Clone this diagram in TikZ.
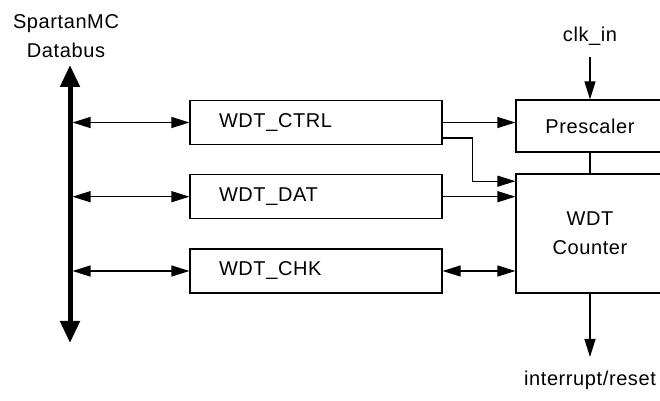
\documentclass[tikz,border=0pt]{standalone}
\usepackage{fontspec}
\setmainfont{Liberation Sans}[LetterSpace=3]
\usetikzlibrary{arrows.meta,positioning}

\begin{document}
\begin{tikzpicture}[
  x=0.5pt,y=-0.5pt,
  font=\fontsize{10}{14.5}\selectfont,
  box/.style={draw,line width=0.6pt,minimum height=22pt,minimum width=126pt,
              text width=97pt,align=left,inner xsep=14.5pt},
  blk/.style={draw,line width=0.6pt,minimum width=74pt,align=center},
  arrow/.style={line width=0.6pt,-{Triangle[length=9pt,width=5.5pt]}},
  biarrow/.style={line width=0.6pt,{Triangle[length=9pt,width=5.5pt]}-{Triangle[length=9pt,width=5.5pt]}},
  busline/.style={line width=2.5pt,{Triangle[length=11pt,width=9.5pt]}-{Triangle[length=11pt,width=9.5pt]}}
]
\path[use as bounding box,clip] (0,0) rectangle (660,401);
% data bus
\node[align=center] (busname) at (66,36) {SpartanMC\\Databus};
\coordinate (bustop) at (70,65);
\coordinate (busbot) at (70,343);
\draw[busline] (bustop) -- (busbot);
% registers
\node[box] (ctrl) at (316,122.5) {WDT\_CTRL};
\node[box] (dat) at (316,196.7) {WDT\_DAT};
\node[box] (chk) at (316,271) {WDT\_CHK};
% watchdog core
\node[blk,minimum height=26pt] (presc) at (590,126) {Prescaler};
\node[blk,minimum height=59.5pt] (cnt) at (590,233.5) {WDT\\Counter};
\node (clk) at (590,36) {clk\_in};
\node (irq) at (590,380) {interrupt/reset};
\coordinate (clkin) at (590,57);
\coordinate (irqout) at (590,357);
% connections
\foreach \r in {ctrl,dat,chk}
  \draw[biarrow,shorten <=1.25pt] (\r.west -| bustop) -- (\r.west);
\draw[arrow] (ctrl.east) -- (ctrl.east -| presc.west);
\draw[arrow] ([yshift=3.5pt]ctrl.south east) -- ++(15pt,0) |- ([yshift=-3.9pt]cnt.north west);
\draw[arrow] (dat.east) -- (dat.east -| cnt.west);
\draw[biarrow] (chk.east) -- (chk.east -| cnt.west);
\draw[line width=0.6pt] (presc.south) -- (cnt.north);
\draw[arrow] (clkin) -- (presc.north);
\draw[arrow] (cnt.south) -- (irqout);
\end{tikzpicture}
\end{document}
